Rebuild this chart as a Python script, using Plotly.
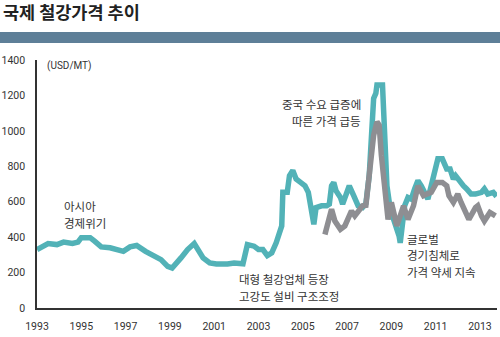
import plotly.graph_objects as go

# Teal series (international steel price), year vs USD/MT
teal_years = [1993.0, 1993.25, 1993.5, 1993.9, 1994.2, 1994.6, 1994.85, 1995.0, 1995.4, 1995.6,
              1995.9, 1996.3, 1996.7, 1996.9, 1997.2, 1997.5, 1997.9, 1998.3, 1998.6, 1998.9,
              1999.1, 1999.5, 1999.8, 2000.1, 2000.2, 2000.5, 2000.8, 2001.1, 2001.6, 2001.9,
              2002.3, 2002.5, 2002.8, 2003.0, 2003.2, 2003.4, 2003.6, 2003.8, 2004.05, 2004.1,
              2004.3, 2004.4, 2004.55, 2004.7, 2004.9, 2005.1, 2005.25, 2005.4, 2005.5, 2005.6,
              2005.85, 2006.08, 2006.2, 2006.3, 2006.4, 2006.5, 2006.7, 2006.8, 2007.0, 2007.1,
              2007.3, 2007.5, 2007.7, 2007.85, 2008.0, 2008.1, 2008.2, 2008.3, 2008.35, 2008.6,
              2008.65, 2008.75, 2008.8, 2008.95, 2009.1, 2009.25, 2009.35, 2009.4, 2009.5, 2009.6,
              2009.75, 2009.9, 2010.05, 2010.2, 2010.35, 2010.5, 2010.65, 2010.8, 2010.95, 2011.1,
              2011.3, 2011.5, 2011.65, 2011.8, 2011.9, 2012.05, 2012.25, 2012.4, 2012.6, 2012.8,
              2013.07, 2013.2, 2013.35, 2013.6, 2013.75]
teal_values = [330, 350, 364, 358, 372, 364, 372, 397, 397, 377,
               345, 340, 330, 320, 345, 353, 320, 292, 273, 235,
               226, 283, 330, 364, 340, 283, 254, 248, 248, 254,
               250, 358, 349, 330, 330, 296, 311, 368, 463, 653,
               653, 747, 776, 728, 709, 690, 653, 520, 472, 567,
               577, 577, 586, 690, 709, 662, 624, 586, 653, 690,
               634, 577, 567, 590, 747, 918, 1183, 1212, 1259, 1259,
               1108, 918, 690, 558, 500, 463, 406, 368, 463, 577,
               624, 615, 672, 719, 690, 643, 615, 690, 766, 842,
               842, 785, 785, 728, 747, 719, 690, 672, 643, 643,
               653, 672, 643, 653, 630]

# Gray series
gray_years = [2006.0, 2006.15, 2006.3, 2006.45, 2006.7, 2006.9, 2007.05, 2007.2, 2007.35, 2007.5,
              2007.7, 2007.85, 2008.0, 2008.2, 2008.35, 2008.45, 2008.55, 2008.75, 2008.85, 2009.0,
              2009.15, 2009.25, 2009.4, 2009.55, 2009.75, 2010.0, 2010.2, 2010.45, 2010.6, 2010.8,
              2011.05, 2011.3, 2011.5, 2011.6, 2011.8, 2012.0, 2012.15, 2012.4, 2012.5, 2012.8,
              2012.9, 2013.07, 2013.2, 2013.45, 2013.7]
gray_values = [415, 500, 558, 491, 444, 463, 500, 548, 520, 548,
               577, 580, 728, 975, 1051, 1032, 861, 634, 500, 596,
               520, 463, 520, 577, 500, 577, 690, 634, 643, 653,
               709, 709, 690, 634, 596, 643, 596, 520, 500, 567,
               577, 520, 491, 539, 520]

x_ticks = [1993, 1995, 1997, 1999, 2001, 2003, 2005, 2007, 2009, 2011, 2013]
y_ticks = [0, 200, 400, 600, 800, 1000, 1200, 1400]

TEAL = "#52b2b7"
GRAY = "#8e8e92"
KFONT = "Noto Sans CJK KR"

fig = go.Figure()
fig.add_trace(go.Scatter(x=teal_years, y=teal_values, mode="lines",
                         line=dict(color=TEAL, width=5.5), hoverinfo="skip"))
fig.add_trace(go.Scatter(x=gray_years, y=gray_values, mode="lines",
                         line=dict(color=GRAY, width=5.5), hoverinfo="skip"))

annot_font = dict(family=KFONT, size=11.5, color="#333333")


def label(text, x, y, anchor):
    return dict(text=text, x=x, y=y, xanchor=anchor, yanchor="middle",
                showarrow=False, font=annot_font)


fig.update_layout(
    width=500, height=337,
    margin=dict(l=37, r=3, t=60, b=29),
    paper_bgcolor="white", plot_bgcolor="white",
    showlegend=False,
    title=dict(text="<b>국제 철강가격 추이</b>", x=0.006, xanchor="left",
               y=0.961, yanchor="middle", xref="container", yref="container",
               font=dict(family=KFONT, size=17.5, color="#222222")),
    xaxis=dict(range=[1993, 2013.77], tickvals=x_ticks, ticktext=[str(t) for t in x_ticks],
               showgrid=False, zeroline=False, showline=True, linecolor="#333333", linewidth=1.5,
               ticks="", ticklabelstandoff=8,
               tickfont=dict(family="Roboto", size=10.5, color="#333333")),
    yaxis=dict(range=[0, 1400], tickvals=y_ticks, showgrid=False, zeroline=False,
               showline=True, linecolor="#333333", linewidth=1.5, ticks="",
               ticklabelstandoff=8,
               tickfont=dict(family="Roboto", size=10.5, color="#333333")),
    shapes=[dict(type="rect", xref="paper", yref="paper",
                 x0=-0.081, x1=1.007, y0=1.0685, y1=1.113,
                 fillcolor="#5e7f98", line=dict(width=0), layer="above")],
    annotations=[
        dict(text="(USD/MT)", x=1993.36, y=1366, xanchor="left", yanchor="middle",
             showarrow=False, font=dict(family="Roboto", size=10, color="#333333")),
        label("아시아", 1994.13, 575, "left"),
        label("경제위기", 1994.13, 482, "left"),
        label("중국 수요 급증에", 2007.72, 1150, "right"),
        label("따른 가격 급등", 2007.72, 1057, "right"),
        label("대형 철강업체 등장", 2002.03, 162, "left"),
        label("고강도 설비 구조조정", 2002.03, 69, "left"),
        label("글로벌", 2009.61, 390, "left"),
        label("경기침체로", 2009.61, 297, "left"),
        label("가격 약세 지속", 2009.61, 204, "left"),
    ],
)

fig.write_html("out.html")
